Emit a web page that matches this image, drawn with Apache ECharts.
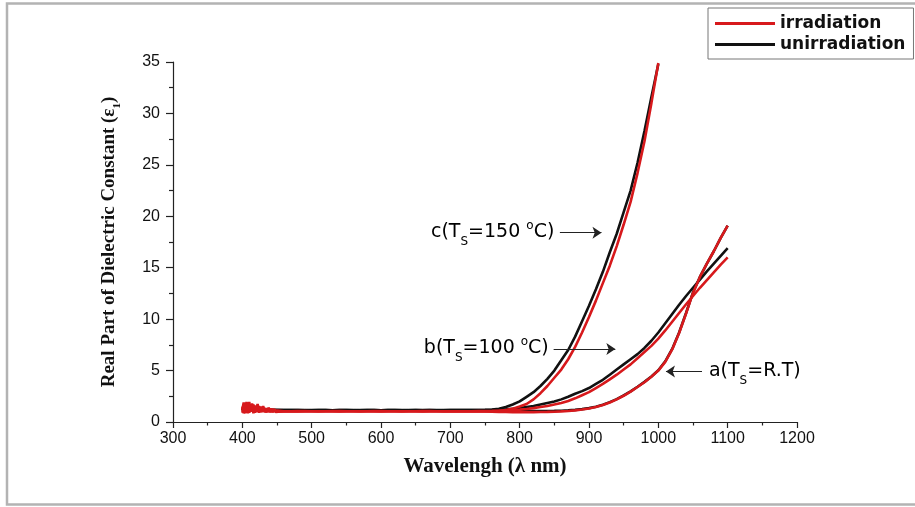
<!DOCTYPE html>
<html>
<head>
<meta charset="utf-8">
<script src="https://cdn.jsdelivr.net/npm/echarts@6/dist/echarts.min.js"></script>
<style>html,body{margin:0;padding:0;background:#fff}#c{width:915px;height:507px}</style>
</head>
<body>
<div id="c"></div>
<script>
// Wavelengths (nm)
const wlNoise = [400,402,404,406,408,410,412,414,416,418,420,422,424,426,428,430,432,434,436,438,440,442,444,446,448,450];
const wlMain = [460,470,480,490,500,510,520,530,540,550,560,570,580,590,600,610,620,630,640,650,660,670,680,690,700,710,720,730,740,750,
  760,770,780,790,800,810,820,830,840,850,860,870,880,890,900,910,920,930,940,950,960,970,980,990,1000,
  1010,1020,1030,1040,1050,1060,1070,1080,1090,1100];

// Noisy start (400-450 nm)
const redA_noise = [1.2,1.9,0.85,1.8,0.9,1.95,1.0,1.7,0.85,1.6,0.95,1.75,1.0,1.5,0.95,1.55,1.0,1.35,0.95,1.4,1.0,1.3,0.95,1.25,1.0,1.15];
const redB_noise = [0.9,1.7,1.0,1.95,0.85,1.6,1.1,1.8,0.9,1.5,1.0,1.65,0.9,1.4,1.05,1.45,0.95,1.3,1.0,1.35,0.95,1.25,1.0,1.2,0.98,1.1];
const redC_noise = [1.5,0.85,1.8,1.0,1.9,0.9,1.6,1.05,1.7,0.9,1.5,1.0,1.55,0.95,1.4,1.05,1.35,0.95,1.3,1.0,1.25,0.98,1.2,1.02,1.14,1.06];
const blackA_noise = [1.2,1.4,1.1,1.5,1.2,1.3,1.1,1.4,1.2,1.3,1.15,1.3,1.2,1.25,1.15,1.3,1.2,1.25,1.15,1.2,1.15,1.2,1.15,1.18,1.15,1.17];
const blackB_noise = [1.3,1.1,1.5,1.2,1.4,1.1,1.3,1.2,1.35,1.15,1.3,1.2,1.25,1.15,1.3,1.2,1.22,1.15,1.2,1.16,1.2,1.15,1.18,1.16,1.17,1.16];
const blackC_noise = [1.1,1.5,1.2,1.3,1.1,1.45,1.2,1.35,1.15,1.3,1.2,1.25,1.15,1.3,1.2,1.25,1.18,1.22,1.16,1.2,1.15,1.19,1.16,1.18,1.15,1.17];

// Main (460-1100 nm)
const blackC = [1.17,1.16,1.15,1.16,1.14,1.15,1.15,1.14,1.15,1.16,1.15,1.14,1.15,1.15,1.14,1.15,1.15,1.14,1.15,1.15,1.14,1.15,1.15,1.14,1.15,1.15,1.16,1.16,1.17,1.18,
  1.2,1.28,1.45,1.7,2.0,2.45,2.9,3.5,4.2,5.0,6.0,7.0,8.3,9.8,11.3,12.9,14.6,16.5,18.3,20.4,22.5,25.2,28.3,31.6,34.8,
  null,null,null,null,null,null,null,null,null,null];
const redC = [1.05,1.04,1.06,1.05,1.04,1.05,1.05,1.06,1.04,1.05,1.05,1.04,1.05,1.06,1.05,1.04,1.05,1.05,1.04,1.05,1.05,1.06,1.04,1.05,1.05,1.04,1.05,1.05,1.06,1.06,
  1.07,1.1,1.17,1.3,1.5,1.75,2.2,2.8,3.5,4.3,5.1,6.1,7.3,8.7,10.2,11.8,13.5,15.2,17.1,19.2,21.4,24.2,27.3,31.0,34.9,
  null,null,null,null,null,null,null,null,null,null];
const blackB = [1.16,1.15,1.16,1.14,1.15,1.15,1.16,1.14,1.15,1.15,1.14,1.16,1.15,1.15,1.14,1.15,1.16,1.15,1.14,1.15,1.15,1.15,1.14,1.16,1.15,1.15,1.15,1.16,1.16,1.16,
  1.17,1.2,1.24,1.29,1.35,1.45,1.55,1.7,1.85,2.0,2.2,2.45,2.75,3.0,3.3,3.7,4.1,4.6,5.1,5.6,6.1,6.6,7.2,7.9,8.7,
  9.6,10.5,11.4,12.25,13.05,13.85,14.65,15.4,16.15,16.9];
const redB = [1.04,1.05,1.05,1.06,1.04,1.05,1.05,1.04,1.06,1.05,1.05,1.04,1.05,1.05,1.06,1.04,1.05,1.05,1.05,1.04,1.06,1.05,1.05,1.04,1.05,1.05,1.05,1.04,1.05,1.05,
  1.06,1.08,1.1,1.15,1.2,1.27,1.35,1.45,1.55,1.7,1.85,2.05,2.3,2.6,2.9,3.3,3.7,4.15,4.6,5.1,5.6,6.2,6.8,7.4,8.1,
  8.9,9.75,10.6,11.45,12.25,13.05,13.8,14.55,15.3,16.0];
const blackA = [1.14,1.13,1.14,1.12,1.13,1.13,1.14,1.12,1.13,1.13,1.12,1.13,1.14,1.13,1.12,1.13,1.13,1.12,1.13,1.14,1.13,1.12,1.13,1.13,1.12,1.13,1.13,1.12,1.12,1.12,
  1.1,1.08,1.07,1.06,1.06,1.06,1.06,1.06,1.07,1.08,1.1,1.13,1.18,1.25,1.35,1.49,1.68,1.93,2.23,2.58,2.98,3.43,3.9,4.43,5.03,
  5.9,7.1,8.7,10.6,12.6,14.1,15.4,16.6,17.9,19.1];
const redA = [1.03,1.04,1.03,1.05,1.04,1.03,1.04,1.05,1.03,1.04,1.04,1.03,1.05,1.04,1.03,1.04,1.04,1.03,1.04,1.05,1.03,1.04,1.04,1.03,1.04,1.03,1.04,1.03,1.03,1.03,
  1.0,0.98,0.97,0.96,0.96,0.96,0.96,0.97,0.98,1.0,1.03,1.07,1.13,1.21,1.32,1.46,1.65,1.9,2.2,2.55,2.95,3.4,3.87,4.4,5.0,
  5.85,7.05,8.65,10.55,12.55,14.1,15.4,16.6,17.9,19.1];

// Axis ticks
const xMin = 300, xMax = 1200, xStep = 100;
const yMin = 0, yMax = 35, yStep = 5;

const RED = '#d7191c', BLACK = '#111111';

function build(noise, main) {
  const wl = wlNoise.concat(wlMain);
  const v = noise.concat(main);
  return wl.map((x, i) => [x, v[i]]);
}

const sansW = 'DejaVu Sans';
const richLbl = {
  n: {fontFamily: sansW, fontSize: 19, color: '#111', lineHeight: 26, verticalAlign: 'top', padding: [3,0,0,0]},
  sub: {fontFamily: sansW, fontSize: 12, color: '#111', lineHeight: 12, verticalAlign: 'top', padding: [16,0,0,0]},
  sup: {fontFamily: sansW, fontSize: 12, color: '#111', lineHeight: 12, verticalAlign: 'top', padding: [0,0,0,0]}
};

function line(name, color, data) {
  return {
    name, type: 'line', data, symbol: 'none', showSymbol: false,
    lineStyle: {color, width: 2.6}, itemStyle: {color}, animation: false,
    z: color === RED ? 3 : 2
  };
}

const chart = echarts.init(document.getElementById('c'), null, {renderer: 'canvas'});
const seriesList = [
  line('unirradiation', BLACK, build(blackC_noise, blackC)),
  line('unirradiation', BLACK, build(blackB_noise, blackB)),
  line('unirradiation', BLACK, build(blackA_noise, blackA)),
  line('irradiation', RED, build(redC_noise, redC)),
  line('irradiation', RED, build(redB_noise, redB)),
  line('irradiation', RED, build(redA_noise, redA))
];
seriesList[5].markLine = {
  silent: true, animation: false,
  symbol: ['none', 'arrow'], symbolSize: 9,
  lineStyle: {color: '#222', width: 1, type: 'solid', opacity: 1},
  itemStyle: {color: '#222'},
  label: {show: false},
  emphasis: {disabled: true},
  data: [
    [{coord: [858, 18.4]}, {coord: [918, 18.4]}],
    [{coord: [849, 7.1]}, {coord: [938, 7.1]}],
    [{coord: [1063, 4.9]}, {coord: [1011, 4.9]}]
  ]
};

chart.setOption({
  backgroundColor: '#fff',
  animation: false,
  grid: {left: 173, right: 118, top: 62, bottom: 85, containLabel: false},
  legend: {
    data: ['irradiation', 'unirradiation'],
    icon: 'rect',
    orient: 'vertical', left: 708, top: 8,
    itemWidth: 60, itemHeight: 3, itemGap: 2,
    padding: [6, 8, 5, 7],
    borderColor: '#777', borderWidth: 1, backgroundColor: '#fff',
    textStyle: {fontFamily: sansW, fontWeight: 'bold', fontSize: 17, color: '#111', lineHeight: 19},
    selectedMode: false
  },
  xAxis: {
    type: 'value', min: xMin, max: xMax, interval: xStep,
    name: 'Wavelengh (λ nm)', nameLocation: 'middle', nameGap: 34,
    nameTextStyle: {fontFamily: 'Liberation Serif', fontWeight: 'bold', fontSize: 21, color: '#111'},
    axisLine: {show: true, onZero: false, lineStyle: {color: '#222', width: 1.2}},
    axisTick: {show: true, inside: false, length: 6, lineStyle: {color: '#222', width: 1.2}},
    minorTick: {show: true, splitNumber: 2, length: 3.5, lineStyle: {color: '#222', width: 1.2}},
    axisLabel: {fontFamily: 'Liberation Sans', fontSize: 16, color: '#111', margin: 9, formatter: v => String(v)},
    splitLine: {show: false}
  },
  yAxis: {
    type: 'value', min: yMin, max: yMax, interval: yStep,
    name: '{t|Real Part of Dielectric Constant (ε}{s|1}{t|)}', nameLocation: 'middle', nameGap: 51,
    nameTextStyle: {
      fontFamily: 'Liberation Serif', fontWeight: 'bold', fontSize: 19, color: '#111',
      rich: {
        t: {fontFamily: 'Liberation Serif', fontWeight: 'bold', fontSize: 19, color: '#111', lineHeight: 24, verticalAlign: 'top', padding: [2,0,0,0]},
        s: {fontFamily: 'Liberation Serif', fontWeight: 'bold', fontSize: 11, color: '#111', lineHeight: 11, verticalAlign: 'top', padding: [14,0,0,0]}
      }
    },
    axisLine: {show: true, onZero: false, lineStyle: {color: '#222', width: 1.2}},
    axisTick: {show: true, inside: false, length: 7, lineStyle: {color: '#222', width: 1.2}},
    minorTick: {show: true, splitNumber: 2, length: 4, lineStyle: {color: '#222', width: 1.2}},
    axisLabel: {fontFamily: 'Liberation Sans', fontSize: 16, color: '#111', margin: 13},
    splitLine: {show: false}
  },
  series: seriesList
});

function px(x, y) { return chart.convertToPixel({gridIndex: 0}, [x, y]); }
const pc = px(850, 18.4), pb = px(842, 7.1), pa = px(1073, 4.9);
chart.setOption({
  graphic: [
    {type: 'rect', shape: {x: 7, y: 3.5, width: 930, height: 501}, style: {fill: 'none', stroke: '#b3b3b3', lineWidth: 2.5}, silent: true, z: 0},
    {type: 'text', x: pc[0], y: pc[1], style: {text: '{n|c(T}{sub|S}{n|=150 }{sup|o}{n|C)}', rich: richLbl, align: 'right', verticalAlign: 'middle'}, z: 10},
    {type: 'text', x: pb[0], y: pb[1], style: {text: '{n|b(T}{sub|S}{n|=100 }{sup|o}{n|C)}', rich: richLbl, align: 'right', verticalAlign: 'middle'}, z: 10},
    {type: 'text', x: pa[0], y: pa[1], style: {text: '{n|a(T}{sub|S}{n|=R.T)}', rich: richLbl, align: 'left', verticalAlign: 'middle'}, z: 10}
  ]
});
</script>
</body>
</html>
